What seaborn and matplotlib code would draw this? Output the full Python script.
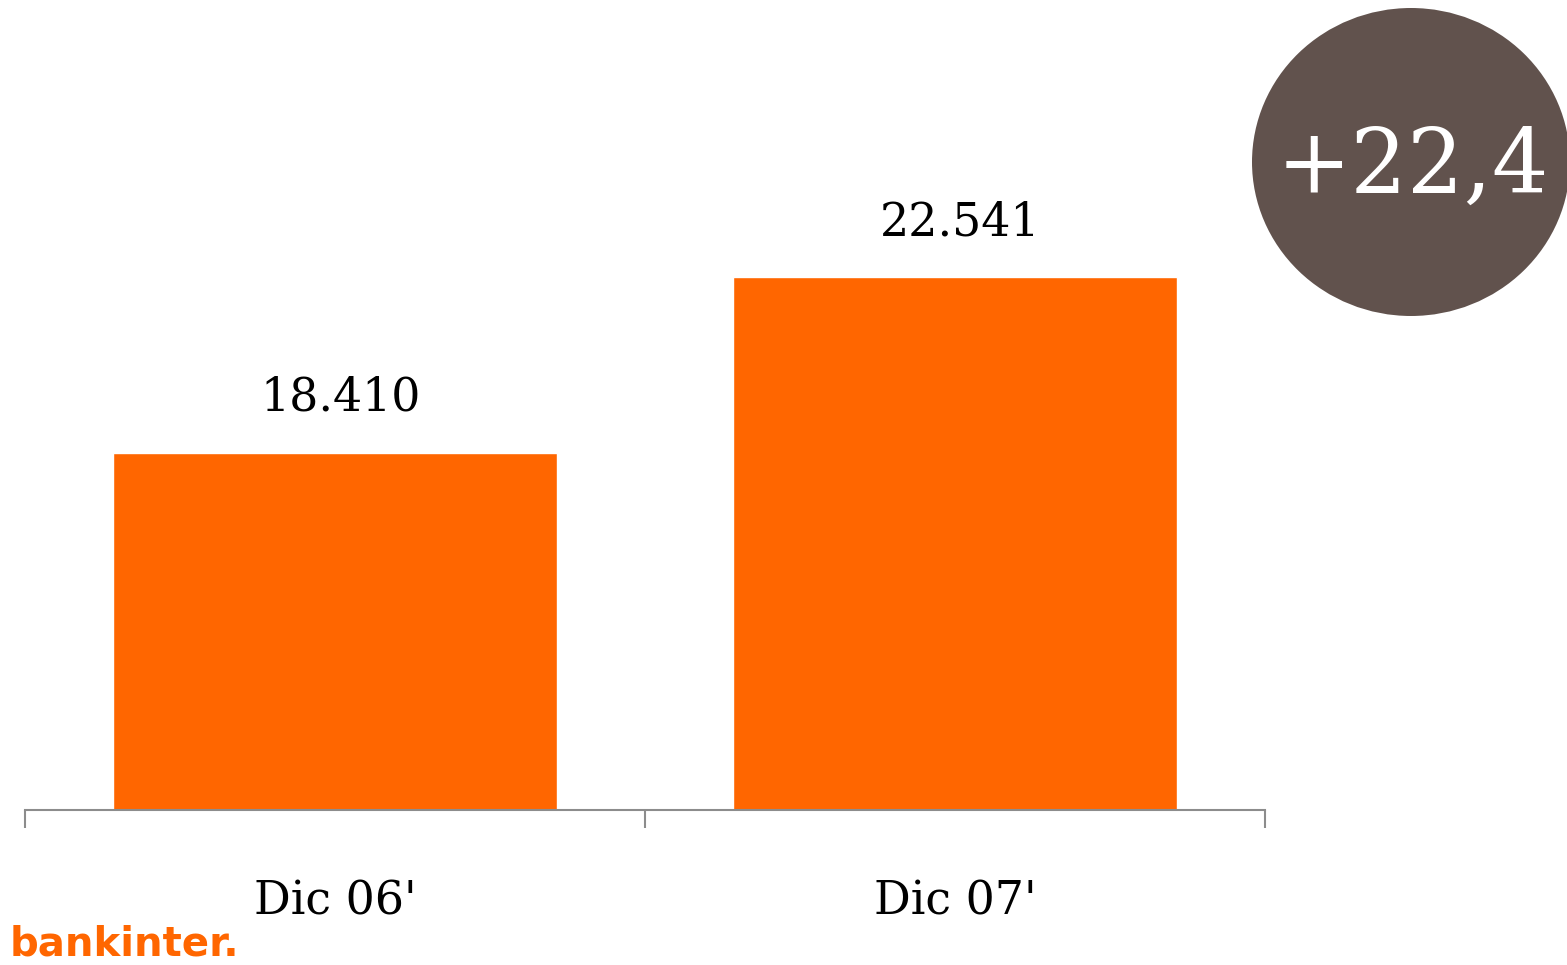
import matplotlib
matplotlib.use("Agg")
import matplotlib.pyplot as plt
from matplotlib.patches import Ellipse
import seaborn as sns
import pandas as pd

# Data
categories = ["Dic 06'", "Dic 07'"]
values = [18410, 22541]
value_labels = ["18.410", "22.541"]
growth_label = "+22,4"

ORANGE = "#FF6600"
BROWN = "#61524D"
GREY = "#8C8C8C"

sns.set_style("white")
plt.rcParams["font.family"] = ["DejaVu Serif"]

W, H = 1567, 965
fig = plt.figure(figsize=(W / 100, H / 100), dpi=100)
ax = fig.add_axes([25 / W, (H - 810) / H, 1240 / W, 805 / H])

df = pd.DataFrame({"periodo": categories, "valor": values})
sns.barplot(data=df, x="periodo", y="valor", color=ORANGE, width=0.716,
            saturation=1, ax=ax)

ax.set_xlim(-0.5, 1.5)
ax.set_ylim(10000, 28950)
ax.set_xlabel("")
ax.set_ylabel("")
ax.set_yticks([])

for s in ["left", "top", "right"]:
    ax.spines[s].set_visible(False)
ax.spines["bottom"].set_color(GREY)
ax.spines["bottom"].set_linewidth(1.5)

# Category labels centred, separator ticks at category boundaries
ax.set_xticks([0, 1])
ax.set_xticklabels(categories, fontsize=33, color="black")
ax.tick_params(axis="x", which="major", bottom=False, length=0, pad=50)
ax.set_xticks([-0.5, 0.5, 1.5], minor=True)
ax.tick_params(axis="x", which="minor", bottom=True, length=13, width=1.5,
               color=GREY, direction="out")

# Value labels above bars
for i, (v, lab) in enumerate(zip(values, value_labels)):
    ax.annotate(lab, (i, v), xytext=(4, 23), textcoords="offset points",
                ha="center", va="bottom", fontsize=33, color="black")

# Growth badge
fig.add_artist(Ellipse((1411 / W, 1 - 162 / H), 318 / W, 308 / H,
                       transform=fig.transFigure, facecolor=BROWN,
                       edgecolor="none"))
fig.text(1413 / W, 1 - 168 / H, growth_label, ha="center", va="center",
         fontsize=64, color="white")

# Brand mark
fig.text(10 / W, 0, "bankinter.", ha="left", va="bottom",
         fontsize=29, fontweight="bold", color=ORANGE, family="DejaVu Sans")

fig.savefig("out.png", dpi=100)
